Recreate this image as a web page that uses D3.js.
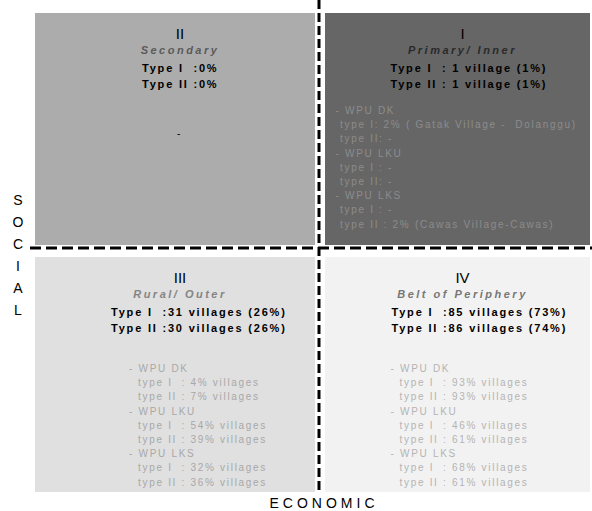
<!DOCTYPE html>
<html>
<head>
<meta charset="utf-8">
<script src="https://cdn.jsdelivr.net/npm/d3@7"></script>
<style>
  body { margin: 0; background: #fff; }
  text { font-family: "Liberation Sans", Arial, sans-serif; }
</style>
</head>
<body>
<div id="chart"></div>
<script>
// Data
const economic = ["low", "high"];
const social = ["high", "low"];
const quadrants = ["II", "I", "III", "IV"];
const quadNames = ["Secondary", "Primary/ Inner", "Rural/ Outer", "Belt of Periphery"];
const typeILines = ["Type I  :0%", "Type I  : 1 village (1%)", "Type I  :31 villages (26%)", "Type I  :85 villages (73%)"];
const typeIILines = ["Type II :0%", "Type II : 1 village (1%)", "Type II :30 villages (26%)", "Type II :86 villages (74%)"];
const details = [
    ["-"],
    ["- WPU DK", " type I: 2% ( Gatak Village -  Dolanggu)", " type II: -", "- WPU LKU", " type I : -", " type II: -",
     "- WPU LKS", " type I : -", " type II : 2% (Cawas Village-Cawas)"],
    ["- WPU DK", "  type I  : 4% villages", "  type II : 7% villages", "- WPU LKU", "  type I  : 54% villages", "  type II : 39% villages",
     "- WPU LKS", "  type I  : 32% villages", "  type II : 36% villages"],
    ["- WPU DK", "  type I  : 93% villages", "  type II : 93% villages", "- WPU LKU", "  type I  : 46% villages", "  type II : 61% villages",
     "- WPU LKS", "  type I  : 68% villages", "  type II : 61% villages"]
];

const width = 592, height = 511;

const svg = d3.select("#chart")
    .append("svg")
    .attr("width", width)
    .attr("height", height);

// Scales: economic left->right, social top->bottom, split at the axis
const x = d3.scaleOrdinal().domain(economic).range([[35, 315], [325, 590]]);
const y = d3.scaleOrdinal().domain(social).range([[13, 245], [257, 492]]);
const axisX = 319, axisY = 248;

// styles per quadrant
const fills = ["#acacac", "#666666", "#e0e0e0", "#f2f2f2"];
const nameColors = ["#5a5a5a", "#2a2a2a", "#858585", "#777777"];
const detailColors = ["#000000", "#8c8c8c", "#a8a8a8", "#b4b4b4"];
const typeDx = [-38, -72, -69, -71];
const detailX = [-3, -127, -51, -72];
const detailY = [133, 110, 368, 368];

const cells = quadrants.map((q, i) => ({
    q, i,
    econ: economic[i % 2],
    soc: social[Math.floor(i / 2)]
}));

const g = svg.selectAll(".quad")
    .data(cells)
    .enter()
    .append("g")
    .attr("class", "quad");

g.append("rect")
    .attr("x", d => x(d.econ)[0])
    .attr("y", d => y(d.soc)[0])
    .attr("width", d => x(d.econ)[1] - x(d.econ)[0])
    .attr("height", d => y(d.soc)[1] - y(d.soc)[0])
    .style("fill", d => fills[d.i]);

const cx = d => (x(d.econ)[0] + x(d.econ)[1]) / 2 + 5;

// roman numeral
g.append("text")
    .attr("x", cx)
    .attr("y", d => y(d.soc)[0] + 26)
    .attr("text-anchor", "middle")
    .style("font-size", "15px")
    .style("fill", "#000")
    .text(d => d.q);

// quadrant name
g.append("text")
    .attr("x", cx)
    .attr("y", d => y(d.soc)[0] + 41)
    .attr("text-anchor", "middle")
    .style("font-size", "11px")
    .style("font-style", "italic")
    .style("font-weight", "bold")
    .style("letter-spacing", "2.5px")
    .style("fill", d => nameColors[d.i])
    .text(d => quadNames[d.i]);

// type lines
g.append("text")
    .attr("x", d => cx(d) + typeDx[d.i])
    .attr("y", d => y(d.soc)[0] + 59)
    .style("font-size", "11px")
    .style("font-weight", "bold")
    .style("letter-spacing", "1.8px")
    .style("white-space", "pre")
    .style("fill", "#000")
    .text(d => typeILines[d.i]);

g.append("text")
    .attr("x", d => cx(d) + typeDx[d.i])
    .attr("y", d => y(d.soc)[0] + 75)
    .style("font-size", "11px")
    .style("font-weight", "bold")
    .style("letter-spacing", "1.8px")
    .style("white-space", "pre")
    .style("fill", "#000")
    .text(d => typeIILines[d.i]);

// detail lists
g.each(function(d) {
    d3.select(this).selectAll(".detail")
        .data(details[d.i])
        .enter()
        .append("text")
        .attr("class", "detail")
        .attr("x", cx(d) + detailX[d.i])
        .attr("y", (t, j) => detailY[d.i] + 4 + j * 14.2)
        .style("font-size", "10px")
        .style("letter-spacing", "1.7px")
        .style("white-space", "pre")
        .style("fill", detailColors[d.i])
        .text(t => t);
});

// dashed axes
svg.append("line")
    .attr("x1", axisX).attr("x2", axisX)
    .attr("y1", 0).attr("y2", 493)
    .style("stroke", "#000")
    .style("stroke-width", 3)
    .style("stroke-dasharray", "9,4");

svg.append("line")
    .attr("x1", 30).attr("x2", 592)
    .attr("y1", axisY).attr("y2", axisY)
    .style("stroke", "#000")
    .style("stroke-width", 3)
    .style("stroke-dasharray", "11,5");

// axis titles
svg.append("text")
    .attr("x", 324)
    .attr("y", 508)
    .attr("text-anchor", "middle")
    .style("font-size", "14px")
    .style("letter-spacing", "4px")
    .text("ECONOMIC");

svg.selectAll(".social")
    .data("SOCIAL".split(""))
    .enter()
    .append("text")
    .attr("class", "social")
    .attr("x", 18)
    .attr("y", (c, i) => 205 + i * 22)
    .attr("text-anchor", "middle")
    .style("font-size", "14px")
    .text(c => c);
</script>
</body>
</html>
